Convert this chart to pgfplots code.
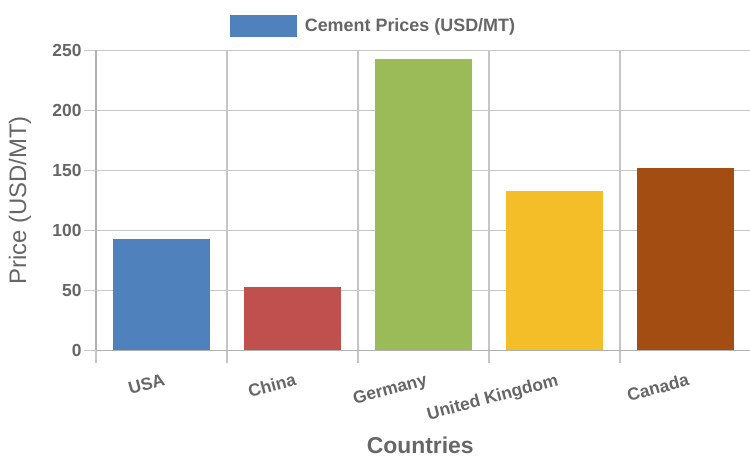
\documentclass[border=0pt]{standalone}
\usepackage{fontspec}
\setmainfont{Liberation Sans}
\usepackage{pgfplots}
\pgfplotsset{compat=1.18}
\definecolor{txt}{HTML}{666666}
\definecolor{gridc}{HTML}{C6C6C6}
\definecolor{axc}{HTML}{B0B0B0}
\definecolor{cblue}{HTML}{4F81BD}
\definecolor{cred}{HTML}{C0504D}
\definecolor{cgreen}{HTML}{9BBB59}
\definecolor{cyellow}{HTML}{F4BE28}
\definecolor{cbrown}{HTML}{A44D12}

\begin{document}
\begin{tikzpicture}
\useasboundingbox (0bp,0bp) rectangle (750bp,468bp);
\begin{axis}[
    at={(96bp,117.5bp)}, anchor=south west,
    scale only axis, width=655bp, height=300bp,
    xmin=-0.5, xmax=4.5, ymin=0, ymax=250,
    ybar, bar width=0.734, bar shift=0pt,
    ytick={0,50,...,250},
    xtick={0,1,2,3,4},
    xticklabels={USA,China,Germany,United Kingdom,Canada},
    minor xtick={-0.5,0.5,1.5,2.5,3.5,4.5},
    major x tick style={draw=none},
    xminorgrids, ymajorgrids,
    grid style={gridc, line width=1.5bp},
    axis x line*=bottom, axis y line*=left,
    axis line style={axc, line width=1.5bp},
    tick align=outside,
    major tick length=12bp, minor tick length=12bp,
    tick style={gridc, line width=1.5bp},
    /pgf/number format/assume math mode=true,
    yticklabel style={font=\fontsize{17.5}{17.5}\selectfont\bfseries, text=txt, anchor=east, xshift=1bp},
    xticklabel style={font=\fontsize{17.5}{17.5}\selectfont\bfseries, text=txt, rotate=15, anchor=north east, xshift=2bp, yshift=-7bp},
    xlabel={Countries},
    ylabel={Price (USD/MT)},
    xlabel style={font=\fontsize{23}{23}\selectfont\bfseries, text=txt, at={(axis description cs:0.495,-0.317)}, anchor=center},
    ylabel style={font=\fontsize{24}{24}\selectfont, text=txt, at={(axis description cs:-0.116,0.5)}, anchor=center, rotate=0},
    legend style={at={(axis description cs:0.4236,1.083)}, anchor=center, draw=none, fill=none,
        font=\fontsize{18}{18}\selectfont\bfseries, text=txt, inner sep=0pt,
        /tikz/every even column/.append style={column sep=0pt}},
    legend image code/.code={\fill[cblue] (0bp,-11bp) rectangle (67bp,11bp);},
]
\addplot[fill=cblue, draw=none] coordinates {(0,93)};
\addlegendentry{\hspace{6bp}Cement Prices (USD/MT)}
\addplot[fill=cred, draw=none, forget plot] coordinates {(1,52.5)};
\addplot[fill=cgreen, draw=none, forget plot] coordinates {(2,243)};
\addplot[fill=cyellow, draw=none, forget plot] coordinates {(3,133)};
\addplot[fill=cbrown, draw=none, forget plot] coordinates {(4,152)};
\end{axis}
\end{tikzpicture}
\end{document}
